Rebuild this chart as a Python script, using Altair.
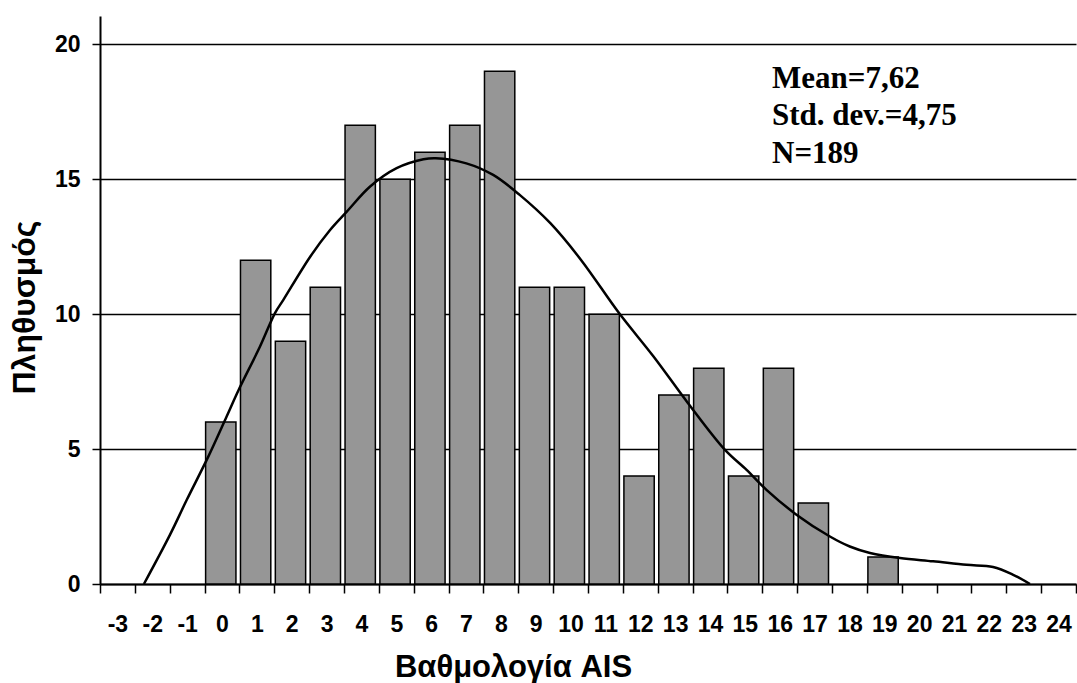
import altair as alt
import pandas as pd

# Histogram of AIS scores (frequency per integer score)
scores = list(range(0, 20))
counts = [6, 12, 9, 11, 17, 15, 16, 17, 19, 11, 11, 10, 4, 7, 8, 4, 8, 3, 0, 1]

# Smoothed frequency curve drawn over the histogram
curve_x = [-2.24, -1.49, -1.01, -0.39, 0.13, 0.48, 1.09, 1.52, 1.76, 2.53,
           3.10, 3.58, 4.25, 5.01, 5.78, 6.13, 7.01, 7.78, 8.54, 9.42,
           10.30, 11.39, 12.38, 13.37, 14.43, 15.05, 15.62, 16.48, 17.44,
           18.01, 18.59, 19.45, 20.40, 21.36, 22.12, 22.70, 23.18]
curve_y = [0.0, 1.83, 3.12, 4.73, 6.2, 7.2, 8.80, 10.04, 10.53, 12.13,
           13.12, 13.80, 14.73, 15.41, 15.74, 15.78, 15.59, 15.16, 14.42, 13.37,
           12.01, 10.04, 8.43, 6.70, 4.97, 4.23, 3.49, 2.57, 1.76,
           1.39, 1.15, 0.96, 0.84, 0.71, 0.63, 0.34, 0.0]

x_labels = list(range(-3, 25))
y_ticks = [0, 5, 10, 15, 20]
stats_lines = ["Mean=7,62", "Std. dev.=4,75", "N=189"]

hist = pd.DataFrame({"score": scores, "count": counts})
curve = pd.DataFrame({"score": curve_x, "count": curve_y})

SANS = "Liberation Sans"
SERIF = "Liberation Serif"

x_scale = alt.Scale(domain=[x_labels[0] - 0.5, x_labels[-1] + 0.5], nice=False, zero=False)
y_scale = alt.Scale(domain=[0, 21.05], nice=False, zero=True)

# category boundaries carry the tick marks, labels sit at the centres
boundaries = [v - 0.5 for v in x_labels] + [x_labels[-1] + 0.5]

y_axis = alt.Axis(
    values=y_ticks,
    grid=True,
    gridColor="#000000",
    gridWidth=1.3,
    gridOpacity=1,
    tickSize=8,
    tickWidth=1.5,
    tickColor="#000000",
    domainColor="#000000",
    domainWidth=2,
    labelFont=SANS,
    labelFontSize=23,
    labelFontWeight="bold",
    labelColor="#000000",
    labelPadding=12,
    title="Πληθυσμός",
    titleFont=SANS,
    titleFontSize=32,
    titleFontWeight="bold",
    titleColor="#000000",
    titleAngle=270,
    titleAlign="center",
    titleBaseline="middle",
    titleX=-76,
    titleY=291,
)

bars = (
    alt.Chart(hist)
    .transform_filter("datum.count > 0")
    .transform_calculate(lo="datum.score - 0.47", hi="datum.score + 0.40")
    .mark_bar(fill="#969696", stroke="#000000", strokeWidth=1.5)
    .encode(
        x=alt.X(
            "lo:Q",
            scale=x_scale,
            axis=alt.Axis(
                orient="bottom",
                values=boundaries,
                labels=False,
                ticks=True,
                tickSize=9,
                tickWidth=1.5,
                tickColor="#000000",
                domain=True,
                domainColor="#000000",
                domainWidth=2,
                grid=False,
                title=None,
            ),
        ),
        x2="hi:Q",
        y=alt.Y("count:Q", scale=y_scale, axis=y_axis),
        y2=alt.datum(0),
    )
)

line = (
    alt.Chart(curve)
    .mark_line(color="#000000", strokeWidth=2.5, interpolate="catmull-rom")
    .encode(
        x=alt.X(
            "score:Q",
            scale=x_scale,
            axis=alt.Axis(
                orient="bottom",
                values=x_labels,
                labelExpr="'' + datum.value",
                ticks=False,
                tickSize=0,
                domain=False,
                grid=False,
                labelFont=SANS,
                labelFontSize=23,
                labelFontWeight="bold",
                labelColor="#000000",
                labelPadding=29,
                labelFlush=False,
                labelOverlap=False,
                title="Βαθμολογία AIS",
                titleFont=SANS,
                titleFontSize=31,
                titleFontWeight="bold",
                titleColor="#000000",
                titleAlign="center",
                titleBaseline="alphabetic",
                titleX=413,
                titleY=92,
            ),
        ),
        y=alt.Y("count:Q", scale=y_scale, axis=y_axis),
    )
)

stats = (
    alt.Chart(pd.DataFrame({"k": [0]}))
    .mark_text(
        text=stats_lines,
        font=SERIF,
        fontSize=31,
        fontWeight="bold",
        color="#000000",
        align="left",
        baseline="alphabetic",
        lineHeight=37.8,
    )
    .encode(x=alt.value(672), y=alt.value(71.7))
)

chart = (
    alt.layer(bars, line, stats)
    .resolve_axis(x="independent")
    .properties(
        width=976,
        height=568,
        padding={"left": 100, "top": 16, "right": 1, "bottom": 99},
        autosize="none",
        background="#ffffff",
    )
    .configure_view(stroke=None)
)

chart.save("out.html", embed_options={"renderer": "svg", "actions": False})
